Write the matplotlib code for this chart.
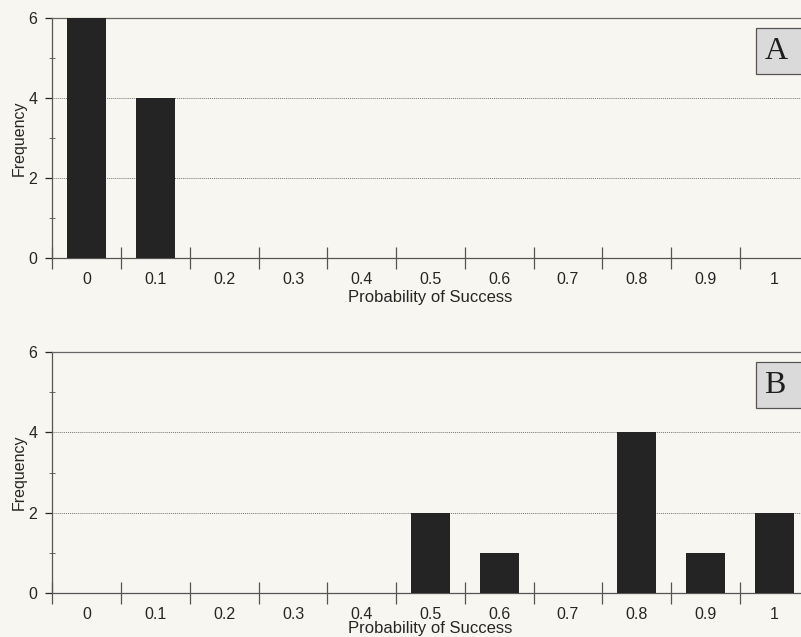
"""Two-panel frequency histograms of probability of success (panels A and B)."""

import matplotlib

matplotlib.use("Agg")
import matplotlib.pyplot as plt
from matplotlib.patches import Rectangle
from matplotlib.ticker import FixedLocator, MultipleLocator
import numpy as np

categories = ["0", "0.1", "0.2", "0.3", "0.4", "0.5", "0.6", "0.7", "0.8", "0.9", "1"]
freq_a = [6, 4, 0, 0, 0, 0, 0, 0, 0, 0, 0]
freq_b = [0, 0, 0, 0, 0, 2, 1, 0, 4, 1, 2]
panel_labels = ["A", "B"]

paper = "#f8f6f0"
bar_color = "#242424"
text_color = "#262626"
plt.rcParams["font.family"] = ["Liberation Sans", "DejaVu Sans"]

fig = plt.figure(figsize=(8.01, 6.37), dpi=100, facecolor=paper)
W, H = 801.0, 637.0
left, width = 52.5 / W, 756 / W
boxes = [(1 - 258 / H, 240 / H), (1 - 593 / H, 241 / H)]
label_pads = [2, -0.5]

x = np.arange(len(categories))
for (bottom, height), values, tag, lpad in zip(boxes, [freq_a, freq_b], panel_labels, label_pads):
    ax = fig.add_axes([left, bottom, width, height], facecolor=paper)
    ax.bar(x, values, width=0.57, color=bar_color, zorder=3)
    ax.set_xlim(-0.5, len(categories) - 0.5)
    ax.set_ylim(0, 6)
    for y in (2, 4):
        ax.axhline(y, color="#777777", lw=0.7, ls=(0, (1, 1)), zorder=1)
    ax.spines["right"].set_visible(False)
    ax.spines["top"].set_color("#666666")
    for side in ("top", "left", "bottom"):
        ax.spines[side].set_linewidth(0.9)
    ax.spines["left"].set_color("#555555")
    ax.spines["bottom"].set_color("#555555")

    ax.set_xticks(x)
    ax.set_xticklabels(categories)
    ax.xaxis.set_minor_locator(FixedLocator(np.arange(-0.5, len(categories), 1.0)))
    ax.tick_params(axis="x", which="major", length=0, pad=10, labelsize=11.5, colors=text_color)
    ax.tick_params(axis="x", which="minor", direction="inout", length=16, width=0.9, color="#555555")
    ax.yaxis.set_major_locator(MultipleLocator(2))
    ax.yaxis.set_minor_locator(MultipleLocator(1))
    ax.tick_params(axis="y", which="major", direction="out", length=5, width=0.9, pad=6,
                   labelsize=11.5, colors=text_color)
    ax.tick_params(axis="y", which="minor", direction="inout", length=4, width=0.7, color="#666666")
    ax.set_ylabel("Frequency", fontsize=11.5, color=text_color, labelpad=1)
    ax.set_xlabel("Probability of Success", fontsize=12, color=text_color, labelpad=lpad)

    # panel tag box, running off the right edge as in the scan
    ax.add_patch(Rectangle((9.73, 4.6), 1.4, 1.15, facecolor="#dadada", edgecolor="#555555",
                           lw=0.9, clip_on=False, zorder=4))
    ax.text(9.86, 5.16, tag, fontsize=23, family="Liberation Serif", color="#1e1e1e",
            ha="left", va="center", zorder=5)

fig.savefig("out.png", dpi=100, facecolor=paper)
